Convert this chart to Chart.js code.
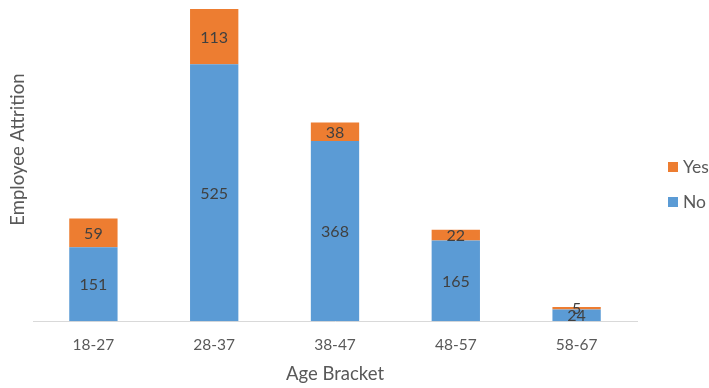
<!DOCTYPE html>
<html lang="en">
<head>
    <meta charset="UTF-8">
    <title>Employee Attrition by Age Bracket</title>
    <script src="https://cdn.jsdelivr.net/npm/chart.js"></script>
    <style>
        html, body {
            margin: 0;
            padding: 0;
            background: #ffffff;
        }
        #wrap {
            width: 709px;
            height: 388px;
        }
    </style>
</head>
<body>
    <div id="wrap"><canvas id="attritionChart"></canvas></div>

    <script>
        // Age brackets and head counts
        const ageBrackets = ['18-27', '28-37', '38-47', '48-57', '58-67'];
        const stayedNo = [151, 525, 368, 165, 24];
        const leftYes = [59, 113, 38, 22, 5];

        const textGrey = '#595959';
        const fontFamily = 'Lato';

        // Write the value in the middle of each bar segment
        const segmentLabels = {
            id: 'segmentLabels',
            afterDatasetsDraw(chart) {
                const ctx = chart.ctx;
                ctx.save();
                ctx.font = '16px ' + fontFamily;
                ctx.fillStyle = '#404040';
                ctx.textAlign = 'center';
                ctx.textBaseline = 'middle';
                chart.data.datasets.forEach((ds, i) => {
                    const meta = chart.getDatasetMeta(i);
                    meta.data.forEach((bar, j) => {
                        const { x, y, base } = bar.getProps(['x', 'y', 'base'], true);
                        ctx.fillText(ds.data[j], x, (y + base) / 2 + 1);
                    });
                });
                ctx.restore();
            }
        };

        // Vertical axis title, set a little above the plot's middle
        const sideTitle = {
            id: 'sideTitle',
            afterDraw(chart) {
                const ctx = chart.ctx;
                const area = chart.chartArea;
                ctx.save();
                ctx.translate(18, (area.top + area.bottom) / 2 - 15);
                ctx.rotate(-Math.PI / 2);
                ctx.font = '18.5px ' + fontFamily;
                ctx.fillStyle = textGrey;
                ctx.textAlign = 'center';
                ctx.textBaseline = 'middle';
                ctx.fillText('Employee Attrition', 0, 0);
                ctx.restore();
            }
        };

        // Legend on the right, last series on top
        const sideLegend = {
            id: 'sideLegend',
            afterDraw(chart) {
                const ctx = chart.ctx;
                const sets = chart.data.datasets.slice().reverse();
                ctx.save();
                ctx.font = '17.5px ' + fontFamily;
                ctx.textBaseline = 'middle';
                ctx.textAlign = 'left';
                sets.forEach((ds, i) => {
                    const cy = 167 + i * 35;
                    ctx.fillStyle = ds.backgroundColor;
                    ctx.fillRect(668, cy - 5, 10, 10);
                    ctx.fillStyle = textGrey;
                    ctx.fillText(ds.label, 683, cy);
                });
                ctx.restore();
            }
        };

        const ctx = document.getElementById('attritionChart').getContext('2d');
        new Chart(ctx, {
            type: 'bar',
            data: {
                labels: ageBrackets,
                datasets: [
                    {
                        label: 'No',
                        data: stayedNo,
                        backgroundColor: '#5B9BD5',
                        categoryPercentage: 1,
                        barPercentage: 0.4
                    },
                    {
                        label: 'Yes',
                        data: leftYes,
                        backgroundColor: '#ED7D31',
                        categoryPercentage: 1,
                        barPercentage: 0.4
                    }
                ]
            },
            options: {
                responsive: true,
                maintainAspectRatio: false,
                animation: false,
                layout: {
                    padding: { left: 33, right: 72, top: 8, bottom: 0 }
                },
                plugins: {
                    tooltip: { enabled: false },
                    legend: { display: false }
                },
                scales: {
                    x: {
                        stacked: true,
                        grid: { display: false, drawTicks: false },
                        border: { color: '#d9d9d9', width: 1 },
                        ticks: {
                            color: textGrey,
                            padding: 14,
                            font: { family: fontFamily, size: 15.5 }
                        },
                        title: {
                            display: true,
                            text: 'Age Bracket',
                            color: textGrey,
                            padding: { top: -5, bottom: 3 },
                            font: { family: fontFamily, size: 18.5 }
                        }
                    },
                    y: {
                        display: false,
                        stacked: true,
                        min: 0,
                        max: 640
                    }
                }
            },
            plugins: [segmentLabels, sideTitle, sideLegend]
        });
    </script>
</body>
</html>
